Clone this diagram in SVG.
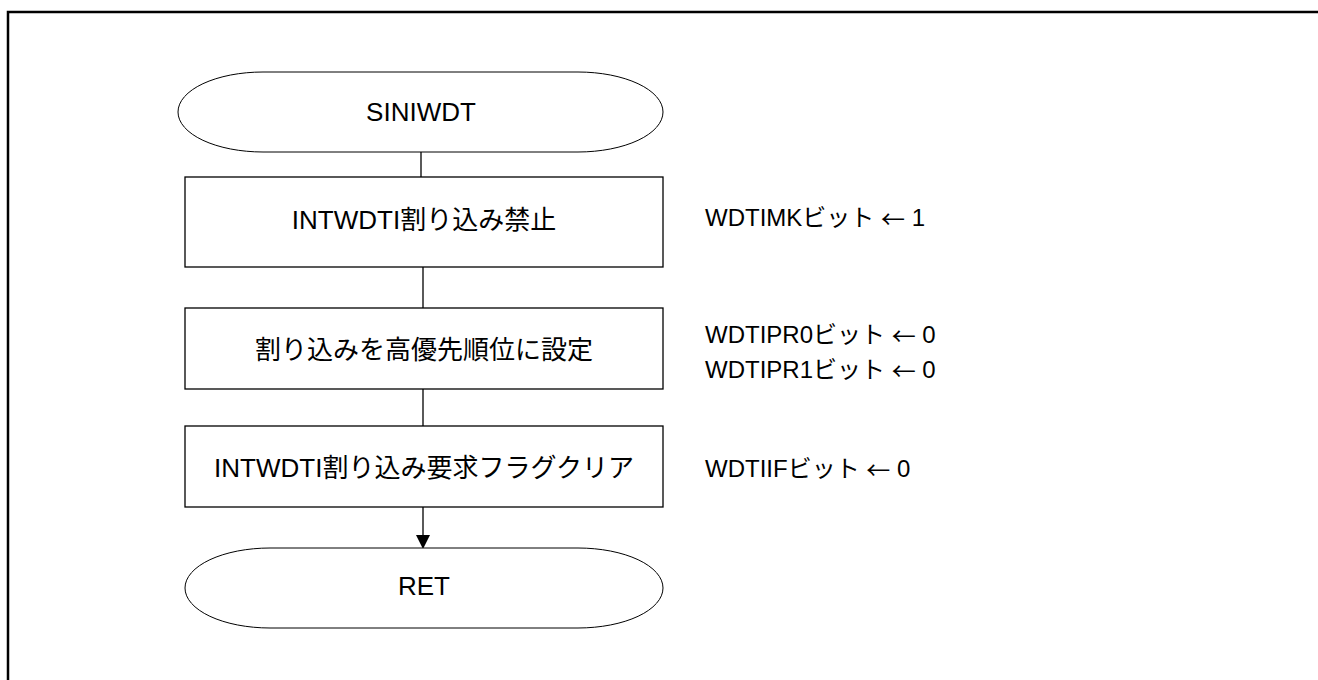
<svg xmlns="http://www.w3.org/2000/svg" width="1318" height="680" viewBox="0 0 1318 680">
<style>
.shape{fill:#fff;stroke:#000;stroke-width:1.3}
.term{fill:#fff;stroke:#000;stroke-width:1}
.t{font-family:"Liberation Sans","Noto Sans CJK JP",sans-serif;font-size:26px;fill:#000}
.r{font-size:24px}
.a{font-family:"Noto Sans CJK JP",sans-serif}
.c{text-anchor:middle;dominant-baseline:central}
.l{dominant-baseline:central}
.conn{stroke:#000;stroke-width:1.3;fill:none}
</style>
<defs>
<marker id="arr" markerWidth="14" markerHeight="14" refX="12" refY="7" orient="auto" markerUnits="userSpaceOnUse">
<path d="M0,0 L14,7 L0,14 Z" fill="#000"/>
</marker>
</defs>
<rect x="0" y="0" width="1318" height="680" fill="#fff"/>
<path d="M8,690 V12 H1330" fill="none" stroke="#000" stroke-width="2.5"/>
<g id="connectors">
<line class="conn" x1="421" y1="152" x2="421" y2="177"/>
<line class="conn" x1="423" y1="267" x2="423" y2="308"/>
<line class="conn" x1="423" y1="389" x2="423" y2="426"/>
<line class="conn" x1="423" y1="507" x2="423" y2="547" marker-end="url(#arr)"/>
</g>
<g id="start">
<rect class="term" x="178" y="72" width="485" height="80" rx="85" ry="40"/>
<text class="t c" x="421" y="112">SINIWDT</text>
</g>
<g id="step1">
<rect class="shape" x="185" y="177" width="478" height="90"/>
<text class="t c" x="424" y="220">INTWDTI割り込み禁止</text>
<text class="t r l" x="705" y="217">WDTIMKビット <tspan class="a">←</tspan> 1</text>
</g>
<g id="step2">
<rect class="shape" x="185" y="308" width="478" height="81"/>
<text class="t c" x="424" y="350">割り込みを高優先順位に設定</text>
<text class="t r l" x="705" y="334">WDTIPR0ビット <tspan class="a">←</tspan> 0</text>
<text class="t r l" x="705" y="369">WDTIPR1ビット <tspan class="a">←</tspan> 0</text>
</g>
<g id="step3">
<rect class="shape" x="185" y="426" width="478" height="81"/>
<text class="t c" x="424" y="468">INTWDTI割り込み要求フラグクリア</text>
<text class="t r l" x="705" y="468">WDTIIFビット <tspan class="a">←</tspan> 0</text>
</g>
<g id="end">
<rect class="term" x="185" y="548" width="478" height="80" rx="85" ry="40"/>
<text class="t c" x="424" y="586">RET</text>
</g>
</svg>
